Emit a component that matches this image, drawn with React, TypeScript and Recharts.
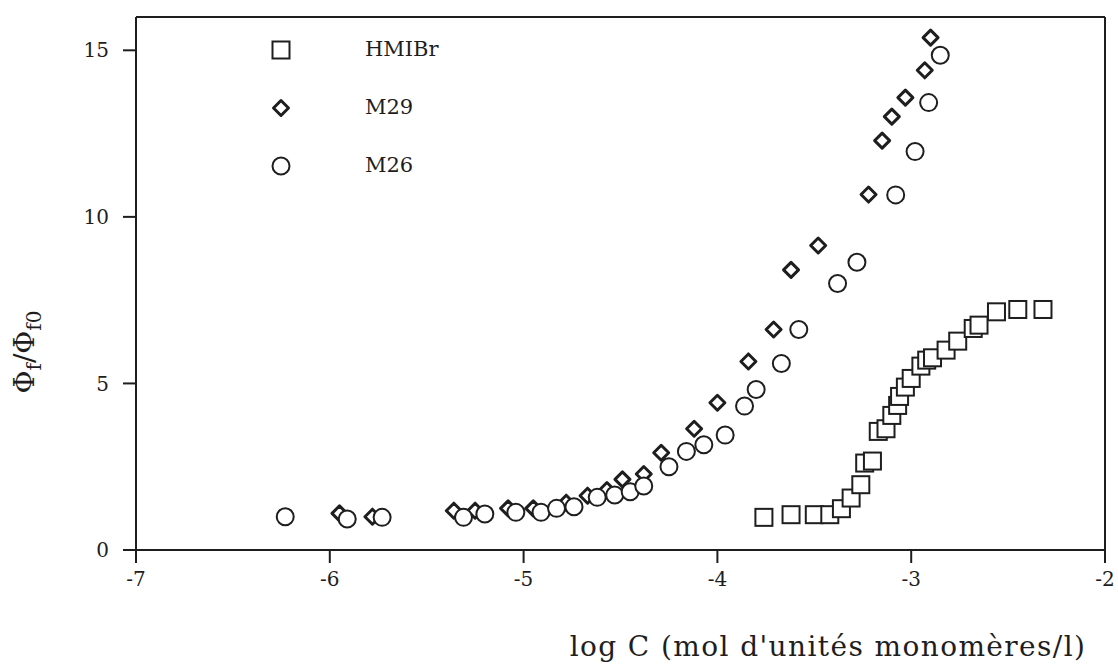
import React from "react";
import {
  ScatterChart,
  Scatter,
  XAxis,
  YAxis,
  ReferenceLine,
} from "recharts";

// log C, phi_f / phi_f0
const HMIBR: [number, number][] = [
  [-3.76, 0.98], [-3.62, 1.06], [-3.5, 1.06], [-3.42, 1.06], [-3.36, 1.24],
  [-3.31, 1.56], [-3.26, 1.96], [-3.24, 2.61], [-3.2, 2.67], [-3.17, 3.56],
  [-3.13, 3.64], [-3.1, 4.04], [-3.07, 4.34], [-3.06, 4.61], [-3.03, 4.89],
  [-3.0, 5.15], [-2.95, 5.52], [-2.92, 5.7], [-2.89, 5.77], [-2.82, 6.0],
  [-2.76, 6.27], [-2.68, 6.65], [-2.65, 6.75], [-2.56, 7.15], [-2.45, 7.22],
  [-2.32, 7.22],
];

const M29: [number, number][] = [
  [-5.95, 1.1], [-5.78, 1.0], [-5.36, 1.18], [-5.25, 1.18], [-5.08, 1.25],
  [-4.95, 1.25], [-4.78, 1.42], [-4.67, 1.63], [-4.57, 1.8], [-4.49, 2.12],
  [-4.38, 2.28], [-4.29, 2.92], [-4.12, 3.64], [-4.0, 4.42], [-3.84, 5.66],
  [-3.71, 6.62], [-3.62, 8.41], [-3.48, 9.14], [-3.22, 10.67], [-3.15, 12.29],
  [-3.1, 13.01], [-3.03, 13.58], [-2.93, 14.4], [-2.9, 15.38],
];

const M26: [number, number][] = [
  [-6.23, 1.0], [-5.91, 0.93], [-5.73, 0.98], [-5.31, 0.98], [-5.2, 1.08],
  [-5.04, 1.13], [-4.91, 1.13], [-4.83, 1.25], [-4.74, 1.3], [-4.62, 1.58],
  [-4.53, 1.65], [-4.45, 1.75], [-4.38, 1.92], [-4.25, 2.5], [-4.16, 2.96],
  [-4.07, 3.16], [-3.96, 3.45], [-3.86, 4.32], [-3.8, 4.82], [-3.67, 5.6],
  [-3.58, 6.62], [-3.38, 8.0], [-3.28, 8.64], [-3.08, 10.66], [-2.98, 11.96],
  [-2.91, 13.43], [-2.85, 14.85],
];

const X_TICKS = [-7, -6, -5, -4, -3, -2];
const Y_TICKS = [0, 5, 10, 15];

const INK = "#1e1e1e";
const FONT = "'DejaVu Serif', 'Liberation Serif', serif";

const toPoints = (pairs: [number, number][]) =>
  pairs.map(([x, y]) => ({ x, y }));

const Square = ({ cx, cy }: any) => (
  <rect x={cx - 8.5} y={cy - 8.5} width={17} height={17} fill="#fff" stroke={INK} strokeWidth={2} />
);

const Diamond = ({ cx, cy }: any) => (
  <path
    d={`M${cx},${cy - 7.5} L${cx + 7.5},${cy} L${cx},${cy + 7.5} L${cx - 7.5},${cy} Z`}
    fill="#fff"
    stroke={INK}
    strokeWidth={3}
    strokeLinejoin="round"
  />
);

const Circle = ({ cx, cy }: any) => (
  <circle cx={cx} cy={cy} r={8.5} fill="#fff" stroke={INK} strokeWidth={2} />
);

const legendItems = [
  { name: "HMIBr", Mark: Square },
  { name: "M29", Mark: Diamond },
  { name: "M26", Mark: Circle },
];

function LegendBox() {
  return (
    <svg
      width={220}
      height={160}
      style={{ position: "absolute", left: 265, top: 32, pointerEvents: "none" }}
    >
      {legendItems.map(({ name, Mark }, i) => (
        <g key={name}>
          <Mark cx={16} cy={18 + i * 58} />
          <text x={100} y={24 + i * 58} fontFamily={FONT} fontSize={21} fill={INK}>
            {name}
          </text>
        </g>
      ))}
    </svg>
  );
}

export default function App() {
  return (
    <div style={{ position: "absolute", left: 0, top: 0, background: "#fff" }}>
      <ScatterChart
        width={1118}
        height={666}
        margin={{ top: 17, right: 13, left: 0, bottom: 0 }}
      >
        <XAxis
          dataKey="x"
          type="number"
          domain={[-7, -2]}
          ticks={X_TICKS}
          allowDataOverflow
          height={116}
          stroke={INK}
          strokeWidth={2}
          tickSize={13}
          tickMargin={9}
          tick={{ fill: INK, fontSize: 20, fontFamily: FONT }}
          label={{
            content: () => (
              <text
                x={828}
                y={656}
                textAnchor="middle"
                fontFamily={FONT}
                fontSize={28}
                letterSpacing={1.4}
                fill={INK}
              >
                log C (mol d'unités monomères/l)
              </text>
            ),
          }}
        />
        <YAxis
          dataKey="y"
          type="number"
          domain={[0, 16]}
          ticks={Y_TICKS}
          allowDataOverflow
          width={136}
          stroke={INK}
          strokeWidth={2}
          tickSize={13}
          tickMargin={14}
          tick={{ fill: INK, fontSize: 20, fontFamily: FONT }}
          label={{
            content: () => (
              <text
                x={0}
                y={0}
                transform="translate(34, 352) rotate(-90)"
                textAnchor="middle"
                fontFamily={FONT}
                fontSize={28}
                fill={INK}
              >
                Φ
                <tspan fontSize={20} dy={7}>f</tspan>
                <tspan fontSize={28} dy={-7}>/Φ</tspan>
                <tspan fontSize={20} dy={7}>f0</tspan>
              </text>
            ),
          }}
        />
        <ReferenceLine y={16} stroke={INK} strokeWidth={2} />
        <ReferenceLine x={-2} stroke={INK} strokeWidth={2} />
        <Scatter name="HMIBr" data={toPoints(HMIBR)} shape={Square} isAnimationActive={false} />
        <Scatter name="M29" data={toPoints(M29)} shape={Diamond} isAnimationActive={false} />
        <Scatter name="M26" data={toPoints(M26)} shape={Circle} isAnimationActive={false} />
      </ScatterChart>
      <LegendBox />
    </div>
  );
}
